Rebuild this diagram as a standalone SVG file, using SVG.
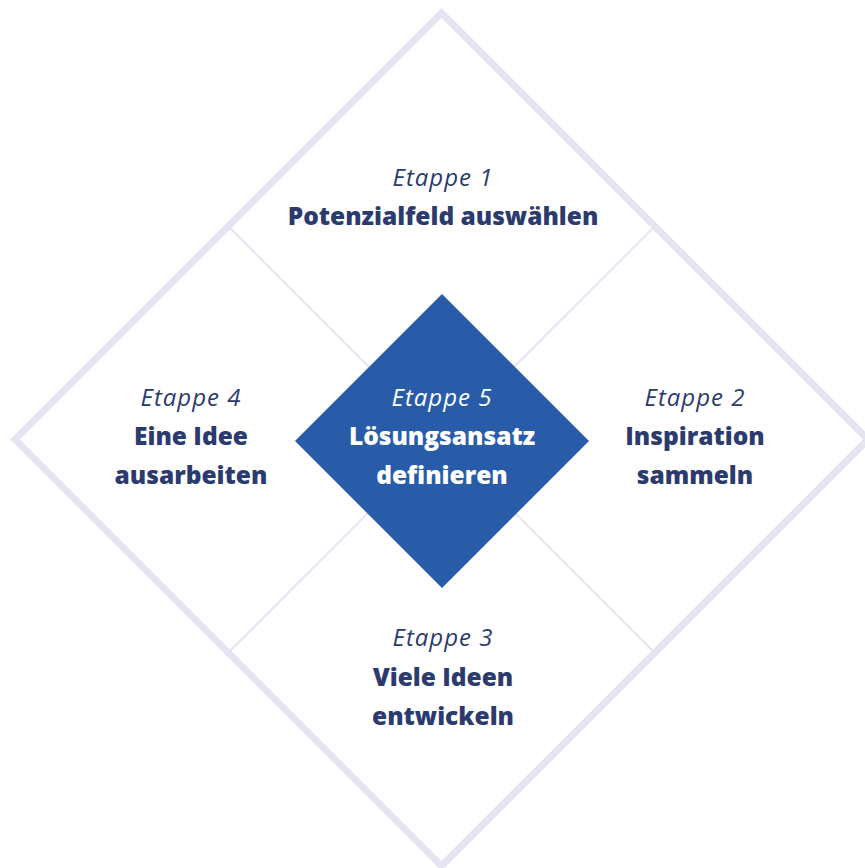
<svg xmlns="http://www.w3.org/2000/svg" width="865" height="868" viewBox="0 0 865 868">
<style>
.frame{fill:none;stroke:#e4e4f3;stroke-width:7;stroke-linejoin:miter}
.div{stroke:#e4e4f3;stroke-width:2}
.et{font-family:"Open Sans",sans-serif;font-style:italic;font-size:24px;letter-spacing:1px;fill:#2b3b6e;text-anchor:middle}
.ti{font-family:"Open Sans",sans-serif;font-weight:800;font-size:24.5px;fill:#2b3b6e;text-anchor:middle}
.w{fill:#ffffff}
</style>
<rect width="865" height="868" fill="#ffffff"/>
<g id="frame">
<polygon class="frame" points="441.5,13 868,439.5 441.5,866 15,439.5"/>
</g>
<g id="connectors">
<line class="div" x1="228" y1="226" x2="655" y2="653"/>
<line class="div" x1="655" y1="226" x2="228" y2="653"/>
</g>
<g id="stage1">
<text class="et" x="443" y="186">Etappe 1</text>
<text class="ti" x="443" y="225">Potenzialfeld auswählen</text>
</g>
<g id="stage2">
<text class="et" x="695" y="406">Etappe 2</text>
<text class="ti" x="695" y="445">Inspiration</text>
<text class="ti" x="695" y="484">sammeln</text>
</g>
<g id="stage3">
<text class="et" x="443" y="646">Etappe 3</text>
<text class="ti" x="443" y="686">Viele Ideen</text>
<text class="ti" x="443" y="725">entwickeln</text>
</g>
<g id="stage4">
<text class="et" x="191" y="406">Etappe 4</text>
<text class="ti" x="191" y="445">Eine Idee</text>
<text class="ti" x="191" y="484">ausarbeiten</text>
</g>
<g id="stage5">
<polygon points="442,294 589,441 442,588 295,441" fill="#285ca9"/>
<text class="et w" x="442" y="406">Etappe 5</text>
<text class="ti w" x="442" y="445">Lösungsansatz</text>
<text class="ti w" x="442" y="484">definieren</text>
</g>
</svg>
